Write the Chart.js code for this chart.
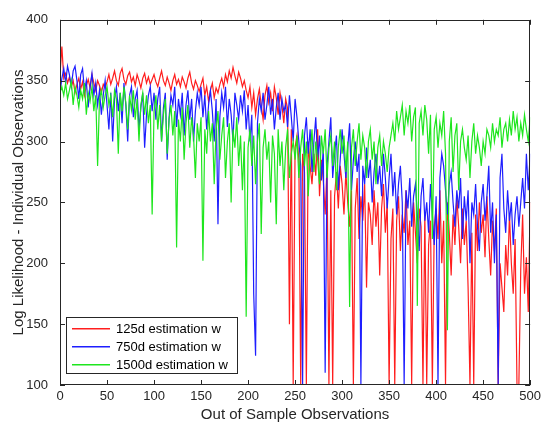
<!DOCTYPE html>
<html>
<head>
<meta charset="utf-8">
<script src="https://cdn.jsdelivr.net/npm/chart.js@4/dist/chart.umd.min.js"></script>
<style>
  html, body { margin: 0; padding: 0; background: #fff; }
  #wrap { width: 545px; height: 429px; }
</style>
</head>
<body>
<div id="wrap"><canvas id="c" width="545" height="429"></canvas></div>
<script>
// ---- data (hand-read estimates, one value every 2 observations: 0,2,...,500) ----
const seriesLabels = ['125d estimation w', '750d estimation w', '1500d estimation w'];
const obsStep = 2;
const xTicks = [0, 50, 100, 150, 200, 250, 300, 350, 400, 450, 500];
const yTicks = [100, 150, 200, 250, 300, 350, 400];

const red125 = [
  355,378,352,356,348,353,345,350,340,347,352,343,349,338,346,351,344,355,348,342,350,346,340,347,344,
  349,355,347,352,358,350,346,356,360,351,347,354,357,349,353,346,355,350,344,352,356,348,353,347,351,
  355,349,345,352,358,350,346,353,348,342,350,355,347,351,345,353,349,344,352,357,348,343,350,346,341,
  347,352,338,345,333,342,348,336,344,340,347,352,345,355,349,358,352,361,354,348,357,352,345,350,342,
  336,345,328,340,322,335,343,330,318,338,346,332,340,325,345,336,322,340,330,315,335,327,150,310,100,
  295,305,285,100,290,275,100,300,280,265,290,272,310,255,285,268,240,280,100,260,100,255,275,245,280,
  265,240,275,250,230,260,100,245,270,220,255,235,265,180,250,240,215,260,230,250,190,245,265,225,250,
  100,220,245,100,235,255,210,240,225,260,215,235,100,250,225,200,245,230,100,240,100,215,235,100,230,
  245,220,260,200,235,100,250,225,190,240,215,255,230,200,245,215,235,180,100,225,100,240,210,250,225,
  240,205,255,220,190,235,210,245,100,200,180,160,215,190,240,200,175,220,100,100,195,240,175,205,160,
  250
];
const blue750 = [
  340,352,360,348,362,355,345,358,362,350,335,355,360,342,350,328,345,356,338,348,330,342,322,338,350,
  330,310,340,300,335,345,325,340,315,348,330,300,338,345,320,335,342,310,328,340,295,322,338,345,325,
  340,318,335,345,300,328,340,285,320,338,330,345,312,335,322,340,305,330,342,318,335,300,325,340,330,
  345,320,338,310,330,342,325,300,335,232,320,340,328,345,312,335,322,300,340,330,318,338,325,342,310,
  330,300,322,175,124,315,335,325,340,318,330,345,322,335,310,328,340,318,335,325,330,312,338,320,300,
  335,320,300,280,100,305,320,290,310,275,300,320,285,305,268,295,110,280,300,320,270,290,305,260,285,
  310,290,270,295,315,260,285,300,275,290,100,280,265,295,270,285,250,275,290,265,280,255,290,270,245,
  270,290,255,275,240,265,280,250,100,260,245,270,230,255,265,240,210,255,270,235,250,225,265,240,215,
  255,100,270,290,280,260,240,265,275,250,230,260,245,270,220,255,235,260,200,250,240,265,230,210,250,
  265,235,255,280,225,250,200,240,100,270,290,245,225,260,235,250,215,240,255,230,250,270,245,290,260,
  290
];
const green1500 = [
  340,345,338,348,335,342,350,330,345,338,328,342,335,348,322,340,333,345,325,338,280,335,342,328,338,
  345,330,338,320,342,335,290,340,325,345,332,310,338,326,342,318,335,300,330,340,322,338,315,330,240,
  325,338,310,330,300,322,335,290,318,330,305,325,213,318,300,328,285,315,330,295,320,305,270,315,300,
  320,202,310,290,325,300,315,265,310,325,285,305,320,270,300,315,250,310,295,320,280,305,260,300,156,
  295,310,280,305,265,300,315,224,295,310,285,300,250,305,290,232,310,280,300,260,295,310,270,290,300,
  285,305,270,295,310,280,300,255,290,310,275,300,285,265,305,290,310,270,295,305,280,300,260,295,310,
  290,305,275,300,164,295,310,280,300,315,285,305,295,270,300,310,285,300,265,295,305,280,300,290,275,
  295,305,315,300,325,310,320,330,305,325,315,330,300,320,328,165,315,325,305,330,318,290,322,220,310,
  320,295,315,305,325,290,145,300,320,275,305,315,260,300,310,295,285,305,270,300,315,290,305,295,280,
  300,290,310,305,295,315,300,310,305,320,295,310,315,300,318,305,325,310,320,300,315,305,322,310,300,
  320
];
const seriesColors = ['rgb(255,30,30)', 'rgb(30,30,255)', 'rgb(30,230,30)'];

// ---- build datasets (MATLAB plot order: red, then blue, then green on top) ----
const allSeries = [red125, blue750, green1500];
const datasets = allSeries.map((vals, k) => ({
  label: seriesLabels[k],
  data: vals.map((v, i) => ({ x: i * obsStep, y: v })),
  borderColor: seriesColors[k],
  backgroundColor: seriesColors[k],
  borderWidth: 1.2,
  pointRadius: 0,
  tension: 0,
  fill: false,
  order: 2 - k
}));

const axisColor = '#262626';
const FONT = '"Liberation Sans", Arial, sans-serif';

// box + inward ticks on all four sides, positions taken from the scales
const boxPlugin = {
  id: 'matlabBox',
  afterDatasetsDraw(chart) {
    const { ctx, chartArea: a, scales: { x, y } } = chart;
    ctx.save();
    ctx.strokeStyle = axisColor;
    ctx.lineWidth = 1;
    ctx.strokeRect(Math.round(a.left) + 0.5, Math.round(a.top) + 0.5,
                   Math.round(a.right - a.left) - 1, Math.round(a.bottom - a.top) - 1);
    const L = 5;
    ctx.beginPath();
    x.ticks.forEach(t => {
      const px = Math.round(x.getPixelForValue(t.value)) + 0.5;
      ctx.moveTo(px, a.bottom); ctx.lineTo(px, a.bottom - L);
      ctx.moveTo(px, a.top); ctx.lineTo(px, a.top + L);
    });
    y.ticks.forEach(t => {
      const py = Math.round(y.getPixelForValue(t.value)) + 0.5;
      ctx.moveTo(a.left, py); ctx.lineTo(a.left + L, py);
      ctx.moveTo(a.right, py); ctx.lineTo(a.right - L, py);
    });
    ctx.stroke();

    // legend (MATLAB-style, lower-left inside the axes)
    const lx = 66.5, ly = 317.5, lw = 171, lh = 56;
    ctx.fillStyle = '#fff';
    ctx.fillRect(lx, ly, lw, lh);
    ctx.strokeStyle = '#262626';
    ctx.strokeRect(lx, ly, lw, lh);
    ctx.font = '13px ' + FONT;
    ctx.textBaseline = 'middle';
    seriesLabels.forEach((lab, i) => {
      const cy = Math.round(ly + 11 + i * 18);
      ctx.fillStyle = seriesColors[i];
      ctx.fillRect(72, cy - 1, 38, 1.5);
      ctx.fillStyle = '#000';
      ctx.fillText(lab, 116, cy);
    });
    ctx.restore();
  }
};

new Chart(document.getElementById('c'), {
  type: 'line',
  data: { datasets },
  options: {
    responsive: false,
    animation: false,
    layout: { padding: { left: 0, top: 13, right: 12, bottom: 0 } },
    plugins: { legend: { display: false }, tooltip: { enabled: false } },
    scales: {
      x: {
        type: 'linear', min: 0, max: 500,
        afterBuildTicks(s) { s.ticks = xTicks.map(v => ({ value: v })); },
        afterFit(s) { s.height = 44; },
        grid: { display: false, drawTicks: false },
        border: { display: false },
        ticks: { color: axisColor, font: { family: FONT, size: 13 }, padding: 4, maxRotation: 0 },
        title: { display: true, text: 'Out of Sample Observations', color: axisColor,
                 font: { family: FONT, size: 15 }, padding: { top: 0, bottom: 5 } }
      },
      y: {
        type: 'linear', min: 100, max: 400,
        afterBuildTicks(s) { s.ticks = yTicks.map(v => ({ value: v })); },
        afterFit(s) { s.width = 60; },
        grid: { display: false, drawTicks: false },
        border: { display: false },
        ticks: { color: axisColor, font: { family: FONT, size: 13 }, padding: 12 },
        title: { display: true, text: 'Log Likelihood - Individual Observations', color: axisColor,
                 font: { family: FONT, size: 15 }, padding: { top: 10, bottom: 0 } }
      }
    }
  },
  plugins: [boxPlugin]
});
</script>
</body>
</html>
